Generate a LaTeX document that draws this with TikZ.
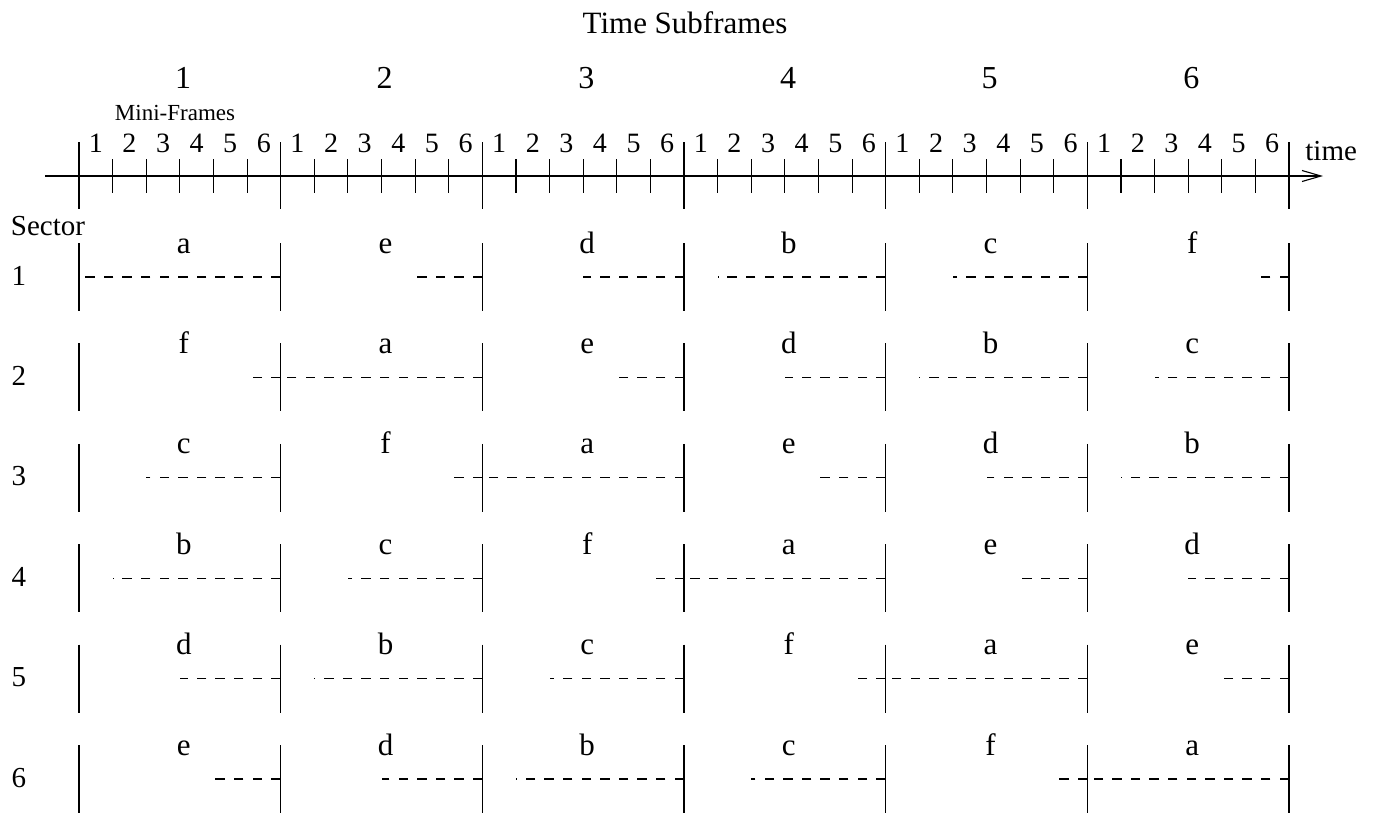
\documentclass[tikz,border=0pt]{standalone}
\usepackage{fontspec}
\setmainfont{Liberation Serif}
\usetikzlibrary{arrows.meta}
\tikzset{
  bar/.style={line width=0.55pt},
  slot/.style={line width=0.55pt, dash pattern=on 4.7pt off 4.6pt},
  txt/.style={inner sep=0pt, anchor=base},
  big/.style={txt, font=\fontsize{15.5}{18}\selectfont},
  mid/.style={txt, font=\fontsize{14.5}{17}\selectfont},
  small/.style={txt, font=\fontsize{11.5}{14}\selectfont}
}

\begin{document}
\begin{tikzpicture}[x=0.5pt,y=-0.5pt]
\useasboundingbox (0,0) rectangle (1377,815);

\node[big] (title) at (685,33) {Time Subframes};
\node[small] (minilabel) at (175,120) {Mini-Frames};
\node[mid, anchor=base west] (timelabel) at (1305,160) {time};
\node[mid] (sectorlabel) at (48,235) {Sector};

% time axis
\coordinate (axisstart) at (45,176);
\coordinate (axisend) at (1323,176);
\draw[bar,-{Straight Barb[length=9.5pt,width=5.5pt]}] (axisstart) -- (axisend);

\foreach \k in {0,...,6}
  \draw[bar] ({79+201.67*\k},142) -- ++(0,67);
\foreach \n [count=\k from 0] in {1,...,6} {
  \node[big, font=\fontsize{16}{19}\selectfont] (sf-\n) at ({183+201.67*\k},88) {\n};
  \foreach \j in {1,...,5}
    \draw[bar] ({79+201.67*\k+33.61*\j},159) -- ++(0,34);
  \foreach \j in {1,...,6}
    \node[mid, font=\fontsize{14}{17}\selectfont] (mf-\n-\j) at ({79+201.67*\k+33.61*(\j-0.5)},152) {\j};
}

% sectors
\foreach \row [count=\r] in {
  {a/6,e/2,d/3,b/5,c/4,f/1},
  {f/1,a/6,e/2,d/3,b/5,c/4},
  {c/4,f/1,a/6,e/2,d/3,b/5},
  {b/5,c/4,f/1,a/6,e/2,d/3},
  {d/3,b/5,c/4,f/1,a/6,e/2},
  {e/2,d/3,b/5,c/4,f/1,a/6}} {
  \pgfmathsetmacro\yr{277+100.4*(\r-1)}
  \node[mid] (sec-\r) at (19,\yr+8) {\r};
  \foreach \k in {0,...,6}
    \draw[bar] ({79+201.67*\k},\yr-34) -- ++(0,68);
  \foreach \l/\n [count=\c] in \row {
    \node[big] (slot-\r-\c) at ({79+201.67*(\c-0.5)+4},\yr-24) {\l};
    \coordinate (end-\r-\c) at ({79+201.67*\c},\yr);
    \draw[slot] (end-\r-\c) -- ++({-33.61*\n},0);
  }
}
\end{tikzpicture}
\end{document}
